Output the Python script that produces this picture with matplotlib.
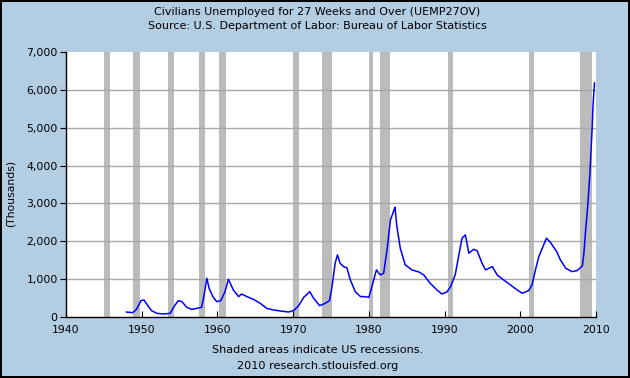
import matplotlib
matplotlib.use('Agg')
import matplotlib.pyplot as plt
from matplotlib.ticker import FuncFormatter

# values (year, thousands)
years = [1948.0, 1948.8, 1949.3, 1949.9, 1950.3, 1950.9, 1951.3, 1952.0, 1952.9, 1953.75,
         1954.4, 1954.85, 1955.3, 1955.95, 1956.6, 1957.3, 1957.9, 1958.2, 1958.6, 1958.9,
         1959.4, 1959.9, 1960.45, 1961.0, 1961.45, 1962.1, 1962.8, 1963.2, 1963.9, 1964.75,
         1965.65, 1966.5, 1967.4, 1968.3, 1969.4, 1970.05, 1970.7, 1971.4, 1972.2, 1972.7,
         1973.5, 1974.25, 1974.8, 1975.1, 1975.55, 1975.85, 1976.2, 1976.65, 1977.1, 1977.55,
         1978.2, 1978.9, 1979.5, 1980.0, 1980.4, 1981.0, 1981.5, 1981.95, 1982.4, 1982.85,
         1983.3, 1983.45, 1983.7, 1984.15, 1984.8, 1985.7, 1986.6, 1987.25, 1988.1, 1989.0,
         1989.65, 1990.3, 1990.75, 1991.4, 1991.85, 1992.3, 1992.75, 1993.2, 1993.85, 1994.3,
         1994.95, 1995.4, 1996.3, 1996.95, 1997.8, 1998.7, 1999.6, 2000.25, 2001.1, 2001.55,
         2002.0, 2002.45, 2003.0, 2003.45, 2004.0, 2004.8, 2005.3, 2006.0, 2006.85, 2007.5,
         2008.2, 2008.4, 2008.6, 2008.9, 2009.2, 2009.35, 2009.5, 2009.6, 2009.8]
unemp = [130, 115, 200, 430, 450, 272, 167, 97, 80, 97,
         317, 432, 405, 256, 203, 229, 256, 538, 1023, 758,
         538, 405, 432, 670, 996, 714, 538, 608, 538, 467,
         362, 229, 185, 159, 132, 168, 291, 520, 670, 494,
         300, 362, 432, 758, 1420, 1640, 1420, 1331, 1300, 979,
         670, 538, 538, 520, 802, 1243, 1111, 1155, 1772, 2566,
         2812, 2901, 2390, 1817, 1376, 1243, 1190, 1111, 891, 714,
         608, 661, 785, 1111, 1596, 2082, 2169, 1684, 1790, 1750,
         1420, 1243, 1331, 1111, 979, 847, 714, 626, 697, 847,
         1243, 1596, 1860, 2082, 1966, 1728, 1508, 1288, 1199, 1225,
         1349, 1684, 2214, 2918, 3801, 4418, 5034, 5563, 6182]

recessions = [(1945.08, 1945.75), (1948.83, 1949.83), (1953.5, 1954.33), (1957.58, 1958.33),
              (1960.25, 1961.08), (1969.92, 1970.83), (1973.83, 1975.17), (1980.0, 1980.5),
              (1981.5, 1982.83), (1990.5, 1991.17), (2001.17, 2001.83), (2007.92, 2009.5)]

bg = '#B3CDE3'
plt.rcParams['font.family'] = 'DejaVu Sans'
plt.rcParams['font.size'] = 8

fig = plt.figure(figsize=(6.3, 3.78), dpi=100, facecolor=bg, edgecolor='black', linewidth=1.5)
ax = fig.add_axes([66/630, 1-317/378, 530/630, 265/378])
ax.set_facecolor('white')

for a, b in recessions:
    ax.axvspan(a, b, color='#BBBBBB', lw=0, zorder=1)

ax.plot(years, unemp, color='#0000FF', lw=1.1, zorder=3)

ax.set_xlim(1940, 2010)
ax.set_ylim(0, 7000)
ax.set_xticks(range(1940, 2011, 10))
ax.set_yticks(range(0, 7001, 1000))
ax.yaxis.set_major_formatter(FuncFormatter(lambda v, p: '{:,}'.format(int(v))))
ax.grid(axis='y', color='#A8A8A8', lw=1, zorder=2)
gl = ax.get_ygridlines()
gl[0].set_visible(False)
gl[-1].set_visible(False)
ax.set_axisbelow(False)

for s in ['top', 'right']:
    ax.spines[s].set_visible(False)
for s in ['left', 'bottom']:
    ax.spines[s].set_linewidth(1)
    ax.spines[s].set_zorder(4)
ax.tick_params(axis='y', direction='out', length=4, pad=2, colors='black', labelsize=7.8)
ax.tick_params(axis='x', direction='in', length=4, pad=6, colors='black', labelsize=7.8)

fig.text(11/630, 1-193/378, '(Thousands)', rotation=90, ha='center', va='center', fontsize=7.8)

fig.text(317/630, 1-12/378, 'Civilians Unemployed for 27 Weeks and Over (UEMP27OV)', ha='center', va='center', fontsize=8)
fig.text(317/630, 1-26/378, 'Source: U.S. Department of Labor: Bureau of Labor Statistics', ha='center', va='center', fontsize=8)
fig.text(318/630, 1-350/378, 'Shaded areas indicate US recessions.', ha='center', va='center', fontsize=8.1)
fig.text(318/630, 1-366/378, '2010 research.stlouisfed.org', ha='center', va='center', fontsize=8.1)

fig.savefig('out.png', dpi=100, facecolor=bg, edgecolor='black')
